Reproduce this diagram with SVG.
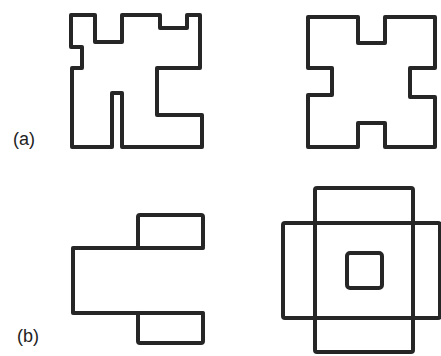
<svg xmlns="http://www.w3.org/2000/svg" width="441" height="356" viewBox="0 0 441 356">
<style>
.s{fill:none;stroke:#262626;stroke-width:4;stroke-linejoin:round;stroke-linecap:round}
.t{font-family:"Liberation Sans",Arial,sans-serif;font-size:18px;fill:#222}
</style>
<rect width="441" height="356" fill="#fff"/>
<g id="label-a"><text class="t" x="13" y="145">(a)</text></g>
<g id="label-b"><text class="t" x="17" y="342">(b)</text></g>
<g id="shape-a1">
<path class="s" d="M71,15 H95 V42 H122 V15 H160 V28 H187 V15 H200 V68 H157 V115 H202 V147 H122 V93 H112 V147 H72 V68 H82 V47 H71 Z"/>
</g>
<g id="shape-a2">
<path class="s" d="M308,17 H358 V43 H385 V17 H435 V68 H410 V97 H435 V147 H385 V123 H358 V147 H308 V95 H332 V68 H308 Z"/>
</g>
<g id="shape-b1">
<path class="s" d="M203,248 H73 V313 H203"/>
<rect class="s" x="138" y="215" width="65" height="33" rx="2"/>
<rect class="s" x="138" y="313" width="65" height="30" rx="2"/>
</g>
<g id="shape-b2">
<rect class="s" x="315" y="188" width="98" height="164" rx="2"/>
<rect class="s" x="283" y="223" width="157" height="95" rx="2"/>
<rect class="s" x="347" y="253" width="35" height="35" rx="3"/>
</g>
</svg>
